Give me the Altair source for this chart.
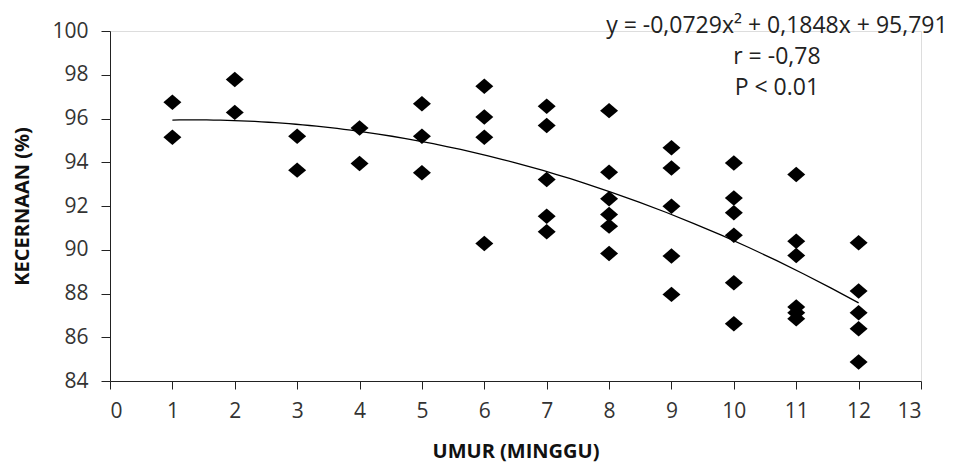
import altair as alt
import pandas as pd

# Scatter data: age (weeks) and digestibility (%)
umur = [1, 1,
        2, 2,
        3, 3,
        4, 4,
        5, 5, 5,
        6, 6, 6, 6,
        7, 7, 7, 7, 7,
        8, 8, 8, 8, 8, 8,
        9, 9, 9, 9, 9,
        10, 10, 10, 10, 10, 10,
        11, 11, 11, 11, 11, 11,
        12, 12, 12, 12, 12]
kecernaan = [96.74, 95.14,
             97.78, 96.28,
             95.19, 93.64,
             95.57, 93.94,
             96.67, 95.19, 93.52,
             97.47, 96.07, 95.14, 90.29,
             96.56, 95.68, 93.21, 91.53, 90.82,
             96.36, 93.54, 92.33, 91.61, 91.08, 89.83,
             94.66, 93.74, 91.99, 89.71, 87.96,
             93.97, 92.37, 91.69, 90.66, 88.49, 86.62,
             93.44, 90.39, 89.74, 87.38, 87.12, 86.85,
             90.32, 88.11, 87.12, 86.39, 84.87]

x_ticks = list(range(0, 14))
y_ticks = list(range(84, 101, 2))

annot_lines = ["y = -0,0729x² + 0,1848x + 95,791", "r = -0,78", "P < 0.01"]
annot_y = [100.25, 98.8, 97.4]

df = pd.DataFrame({"umur": umur, "kecernaan": kecernaan})
ann = pd.DataFrame({"label": annot_lines, "yy": annot_y, "xx": [10.69] * 3})

FONT = "Open Sans"

xscale = alt.Scale(domain=[0, 13], nice=False, zero=False)
yscale = alt.Scale(domain=[84, 100], nice=False, zero=False)

xaxis = alt.Axis(values=x_ticks, format="d", title="UMUR (MINGGU)", grid=False,
                 domainColor="#222", tickColor="#222", tickSize=8,
                 labelFont=FONT, labelFontSize=21, labelColor="#333",
                 labelPadding=11, titleFont=FONT, titleFontSize=20,
                 titleFontWeight="bold", titleColor="#111",
                 titleY=70, titleBaseline="middle")
yaxis = alt.Axis(values=y_ticks, format="d", title="KECERNAAN (%)", grid=False,
                 domainColor="#222", tickColor="#222", tickSize=9,
                 labelFont=FONT, labelFontSize=21, labelColor="#333",
                 labelPadding=13, titleFont=FONT, titleFontSize=20,
                 titleFontWeight="bold", titleColor="#111",
                 titleX=-88, titleY=175, titleAngle=-90,
                 titleAlign="center", titleBaseline="middle")

points = alt.Chart(df).mark_point(
    shape="M-1,0L0,-0.86L1,0L0,0.86Z", filled=True, color="black",
    opacity=1, size=324
).encode(
    x=alt.X("umur:Q", scale=xscale, axis=xaxis),
    y=alt.Y("kecernaan:Q", scale=yscale, axis=yaxis),
)

trend = alt.Chart(df).transform_regression(
    "umur", "kecernaan", method="poly", order=2, extent=[1, 12]
).mark_line(color="black", strokeWidth=1.3).encode(
    x=alt.X("umur:Q", scale=xscale),
    y=alt.Y("kecernaan:Q", scale=yscale),
)

text = alt.Chart(ann).mark_text(
    font=FONT, fontSize=23, color="#222", align="center",
    baseline="middle", clip=False
).encode(
    x=alt.X("xx:Q", scale=xscale),
    y=alt.Y("yy:Q", scale=yscale),
    text="label:N",
)

chart = alt.layer(trend, points, text).properties(
    width=811, height=350,
    autosize=alt.AutoSizeParams(type="none"),
    padding={"left": 102, "top": 23, "right": 33, "bottom": 81},
).configure_view(stroke=None).configure(background="white")

chart.save("out.html", embed_options={"renderer": "svg", "actions": False})
